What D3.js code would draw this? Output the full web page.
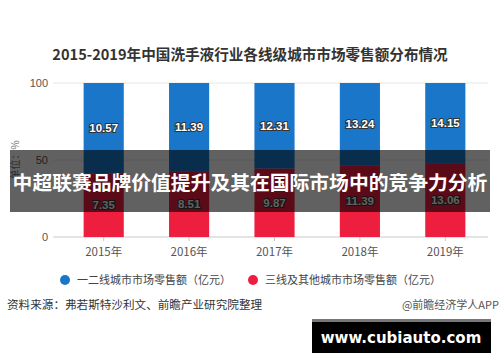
<!DOCTYPE html>
<html>
<head>
<meta charset="utf-8">
<style>
  body { margin: 0; background: #fff; }
  svg { display: block; font-family: "Liberation Sans", "Noto Sans CJK SC", sans-serif; }
  .cjk { font-family: "Noto Sans CJK SC", sans-serif; }
</style>
</head>
<body>
<script src="https://d3js.org/d3.v7.min.js"></script>
<script>
const years = ['2015年', '2016年', '2017年', '2018年', '2019年'];
const tierOne = [10.57, 11.39, 12.31, 13.24, 14.15];   // 一二线城市 (blue, top)
const tierOther = [7.35, 8.51, 9.87, 11.39, 13.06];    // 三线及其他城市 (red, bottom)
const yTicks = [0, 50, 100];
const seriesNames = ['一二线城市市场零售额（亿元）', '三线及其他城市市场零售额（亿元）'];
const colors = { other: '#ee1e3e', one: '#1976c9' };

const width = 500, height = 362;
const svg = d3.select('body').append('svg')
  .attr('width', width).attr('height', height);

const rows = years.map((y, i) => ({ year: y, other: tierOther[i], one: tierOne[i] }));
const stack = d3.stack().keys(['other', 'one']).offset(d3.stackOffsetExpand);
const layers = stack(rows);

const x = d3.scaleBand().domain(years).range([61, 488])
  .paddingInner(0.53).paddingOuter(0.265);
const y = d3.scaleLinear().domain([0, 1]).range([237, 83]);

// title
svg.append('text').attr('class', 'cjk')
  .attr('x', 250).attr('y', 60).attr('text-anchor', 'middle')
  .attr('font-size', 14.6).attr('font-weight', 'bold').attr('fill', '#333')
  .text('2015-2019年中国洗手液行业各线级城市市场零售额分布情况');

// grid + y labels
const yAxis = svg.append('g');
yAxis.selectAll('line').data(yTicks).enter().append('line')
  .attr('x1', 53).attr('x2', 488)
  .attr('y1', d => y(d / 100)).attr('y2', d => y(d / 100))
  .attr('stroke', d => d === 0 ? '#c8c8c8' : '#e6e6e6').attr('stroke-width', 1);
yAxis.selectAll('text').data(yTicks).enter().append('text')
  .attr('x', 48).attr('y', d => y(d / 100) + 4)
  .attr('text-anchor', 'end').attr('font-size', 11).attr('fill', '#555')
  .text(d => d);

svg.append('text').attr('class', 'cjk')
  .attr('transform', 'translate(19,160) rotate(-90)')
  .attr('text-anchor', 'middle').attr('font-size', 10).attr('fill', '#777')
  .text('单位：%');

// bars
layers.forEach(layer => {
  svg.append('g').selectAll('rect').data(layer).enter().append('rect')
    .attr('x', d => x(d.data.year))
    .attr('width', x.bandwidth())
    .attr('y', d => y(d[1]))
    .attr('height', d => y(d[0]) - y(d[1]))
    .attr('fill', colors[layer.key]);
  svg.append('g').selectAll('text').data(layer).enter().append('text')
    .attr('x', d => x(d.data.year) + x.bandwidth() / 2)
    .attr('y', d => (y(d[0]) + y(d[1])) / 2 + 4)
    .attr('text-anchor', 'middle').attr('font-size', 11.5).attr('font-weight', 'bold')
    .attr('fill', '#fff').attr('stroke', '#333').attr('stroke-width', 2)
    .attr('paint-order', 'stroke')
    .text(d => d.data[layer.key].toFixed(2));
});

// x axis ticks + labels
const xg = svg.append('g');
xg.selectAll('line').data(years).enter().append('line')
  .attr('x1', d => x(d) + x.bandwidth() / 2).attr('x2', d => x(d) + x.bandwidth() / 2)
  .attr('y1', 237).attr('y2', 241).attr('stroke', '#c8c8c8');
xg.selectAll('text').data(years).enter().append('text').attr('class', 'cjk')
  .attr('x', d => x(d) + x.bandwidth() / 2).attr('y', 256)
  .attr('text-anchor', 'middle').attr('font-size', 11.5).attr('fill', '#555')
  .text(d => d);

// legend
const legend = [
  { name: seriesNames[0], color: colors.one, x: 65 },
  { name: seriesNames[1], color: colors.other, x: 253 }
];
const lg = svg.append('g').selectAll('g').data(legend).enter().append('g');
lg.append('circle').attr('cx', d => d.x).attr('cy', 280).attr('r', 5).attr('fill', d => d.color);
lg.append('text').attr('class', 'cjk')
  .attr('x', d => d.x + 12).attr('y', 284).attr('font-size', 11).attr('fill', '#444')
  .text(d => d.name);

// source
svg.append('text').attr('class', 'cjk')
  .attr('x', 7).attr('y', 309).attr('font-size', 11.6).attr('fill', '#333')
  .text('资料来源：弗若斯特沙利文、前瞻产业研究院整理');
svg.append('text').attr('class', 'cjk')
  .attr('x', 499).attr('y', 309).attr('text-anchor', 'end')
  .attr('font-size', 11).attr('fill', '#555')
  .text('@前瞻经济学人APP');

// overlay banner
svg.append('rect').attr('x', 10).attr('y', 150).attr('width', 480).attr('height', 62)
  .attr('fill', 'rgba(0,0,0,0.62)');
svg.append('text').attr('class', 'cjk')
  .attr('x', 250).attr('y', 190).attr('text-anchor', 'middle')
  .attr('font-size', 19.8).attr('font-weight', 'bold').attr('fill', '#fff')
  .text('中超联赛品牌价值提升及其在国际市场中的竞争力分析');

// site badge
svg.append('rect').attr('x', 312).attr('y', 319).attr('width', 179).attr('height', 34).attr('fill', '#000');
svg.append('rect').attr('x', 312).attr('y', 319).attr('width', 179).attr('height', 3).attr('fill', '#777');
svg.append('text')
  .attr('x', 401).attr('y', 343).attr('text-anchor', 'middle')
  .attr('font-family', 'DejaVu Sans, sans-serif')
  .attr('font-size', 15).attr('font-weight', 'bold').attr('fill', '#fff')
  .text('www.cubiauto.com');
</script>
</body>
</html>
